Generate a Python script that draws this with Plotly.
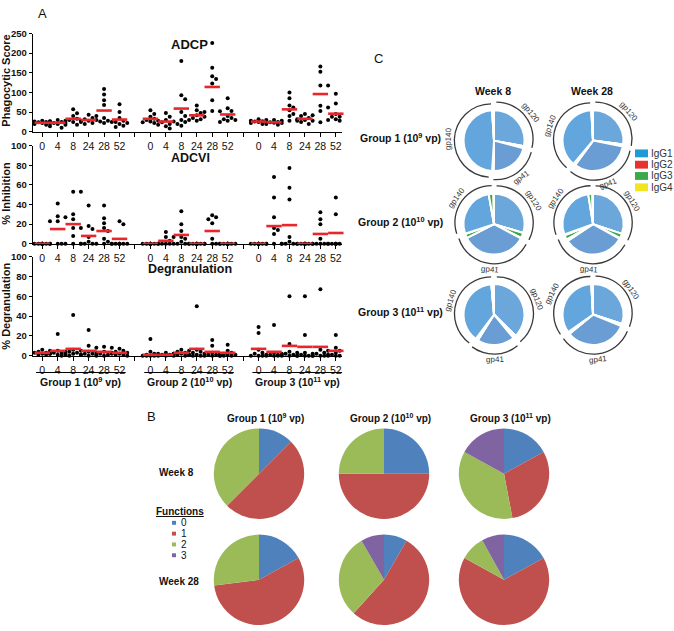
import plotly.graph_objects as go
import math

W, H = 674, 631
def fx(x): return x / W
def fy(y): return 1 - y / H

FONT = "Arial, 'Liberation Sans', sans-serif"

# ---------------- DATA ----------------
timepoints = ["0", "4", "8", "24", "28", "52"]
group_labels = ["Group 1 (10<sup>9</sup> vp)", "Group 2 (10<sup>10</sup> vp)", "Group 3 (10<sup>11</sup> vp)"]

# Panel A - ADCP (phagocytic score), per group: list per timepoint
adcp_g1 = [[28, 26, 24, 22, 21, 20, 18, 27, 25],
           [30, 28, 26, 22, 20, 18, 14, 10, 25],
           [57, 47, 40, 33, 30, 28, 25, 22, 18],
           [43, 40, 35, 32, 30, 28, 25, 22, 20],
           [109, 95, 80, 68, 35, 28, 26, 25, 22],
           [70, 50, 35, 28, 25, 22, 20, 15, 12]]
adcp_g2 = [[55, 45, 38, 33, 30, 28, 26, 24, 22],
           [48, 38, 30, 26, 24, 20, 18, 14, 8],
           [180, 93, 83, 50, 40, 30, 25, 20, 15],
           [67, 55, 48, 42, 38, 35, 32, 30, 28],
           [226, 163, 141, 134, 123, 80, 53, 52, 50],
           [85, 60, 53, 40, 35, 32, 30, 28, 25]]
adcp_g3 = [[32, 30, 28, 27, 26, 25, 24, 22, 20],
           [30, 28, 26, 25, 24, 23, 22, 20, 18],
           [100, 85, 67, 62, 55, 45, 40, 28, 28],
           [45, 42, 40, 35, 32, 30, 28, 25, 20],
           [166, 153, 118, 118, 66, 62, 53, 24],
           [97, 72, 45, 38, 38, 35, 32, 30, 28]]
adcp_mean_g1 = [23, 23, 33, 30, 54, 31]
adcp_mean_g2 = [33, 26, 59, 42, 114, 44]
adcp_mean_g3 = [26, 24, 57, 33, 96, 46]

# Panel A - ADCVI (% inhibition)
adcvi_g1 = [[0, 0, 0, 0, 0, 0, 0, 0, 0],
            [41, 28, 27, 23, 23, 0, 0, 0, 0],
            [53, 53, 30, 25, 16, 16, 8, 0, 0],
            [39, 18, 15, 7, 2, 0, 0, 0, 0],
            [39, 26, 21, 16, 13, 5, 2, 0, 0],
            [23, 20, 0, 0, 0, 0, 0, 0, 0]]
adcvi_g2 = [[0, 0, 0, 0, 0, 0, 0, 0, 0],
            [12, 7, 7, 3, 0, 0, 0, 0, 0],
            [33, 20, 13, 7, 5, 2, 0, 0, 0],
            [0, 0, 0, 0, 0, 0, 0, 0, 0],
            [29, 27, 25, 21, 5, 0, 0, 0, 0],
            [0, 0, 0, 0, 0, 0, 0, 0, 0]]
adcvi_g3 = [[0, 0, 0, 0, 0, 0, 0, 0, 0],
            [68, 47, 27, 16, 14, 10, 0, 0, 0],
            [77, 57, 45, 7, 2, 0, 0, 0, 0],
            [0, 0, 0, 0, 0, 0, 0, 0, 0],
            [32, 25, 20, 5, 0, 0, 0, 0, 0],
            [47, 30, 0, 0, 0, 0, 0, 0, 0]]
adcvi_mean_g1 = [0, 15, 20, 8, 13, 5]
adcvi_mean_g2 = [0, 3, 9, 0, 13, 0]
adcvi_mean_g3 = [0, 18, 19, 0, 10, 11]

# Panel A - Degranulation (%)
degr_g1 = [[6, 5, 4, 3, 3, 2, 2, 1, 1],
           [22, 5, 4, 3, 3, 2, 1, 1, 0],
           [41, 6, 5, 4, 3, 2, 2, 1, 0],
           [26, 10, 4, 3, 2, 2, 1, 0, 0],
           [9, 8, 8, 4, 3, 2, 1, 1, 0],
           [7, 5, 4, 3, 2, 2, 1, 1, 0]]
degr_g2 = [[17, 4, 2, 1, 1, 0, 0, 0, 0],
           [3, 2, 2, 1, 1, 1, 0, 0, 0],
           [6, 5, 4, 3, 2, 2, 1, 1, 0],
           [50, 6, 4, 3, 2, 1, 1, 0, 0],
           [16, 10, 3, 2, 1, 1, 0, 0, 0],
           [11, 5, 3, 2, 1, 1, 0, 0, 0]]
degr_g3 = [[29, 23, 6, 3, 2, 1, 0, 0, 0],
           [31, 3, 2, 1, 1, 0, 0, 0, 0],
           [60, 12, 4, 3, 2, 1, 1, 0, 0],
           [60, 21, 3, 2, 1, 0, 0, 0, 0],
           [67, 6, 5, 3, 2, 1, 0, 0, 0],
           [21, 8, 5, 3, 2, 1, 0, 0, 0]]
degr_mean_g1 = [3, 5, 7, 5, 4, 3]
degr_mean_g2 = [1, 1, 3, 7, 4, 3]
degr_mean_g3 = [7, 4, 10, 9, 9, 5]

# Panel C - IgG subclass distribution per antigen [IgG1, IgG2, IgG3, IgG4]
c_antigens = ["gp120", "gp41", "gp140"]
igg_labels = ["IgG1", "IgG2", "IgG3", "IgG4"]
c_g1_w8 = [[28.0, 0.0, 0.4, 0.6], [21.3, 0.0, 0.2, 0.5], [48.0, 0.0, 0.5, 0.5]]
c_g1_w28 = [[27.0, 0.0, 0.4, 0.7], [32.0, 0.0, 0.5, 0.5], [38.0, 0.0, 0.3, 0.6]]
c_g2_w8 = [[30.0, 0.0, 2.8, 0.3], [35.0, 0.0, 2.3, 0.2], [27.5, 0.0, 2.5, 0.3]]
c_g2_w28 = [[30.5, 0.0, 2.5, 0.3], [33.0, 1.0, 2.4, 0.5], [28.3, 0.0, 2.1, 0.4]]
c_g3_w8 = [[37.5, 0.0, 1.1, 0.5], [20.0, 0.0, 0.7, 0.6], [38.5, 0.0, 1.1, 0.3]]
c_g3_w28 = [[30.0, 0.0, 0.5, 0.7], [33.0, 0.0, 0.4, 0.7], [34.0, 0.0, 0.3, 0.6]]

# Panel B - number of functions (% of animals) [0, 1, 2, 3]
func_labels = ["0", "1", "2", "3"]
b_g1_w8 = [12.5, 50.0, 37.5, 0.0]
b_g2_w8 = [25.0, 50.0, 25.0, 0.0]
b_g3_w8 = [17.0, 30.0, 36.0, 17.0]
b_g1_w28 = [17.0, 56.0, 27.0, 0.0]
b_g2_w28 = [8.3, 53.4, 30.0, 8.3]
b_g3_w28 = [17.0, 66.0, 9.0, 8.0]

# ---------------- STYLE ----------------
XPX = 15.45  # px per slot on panel A x axis

def swarm(vals, ypx, step=0.25, diam=4.2):
    order = sorted(range(len(vals)), key=lambda k: -vals[k])
    placed, res = [], [0.0] * len(vals)
    for k in order:
        y = vals[k] * ypx
        best, bestd = 0, -1
        for c in [0, 1, -1, 2, -2]:
            x = c * step * XPX
            d = min([((x - a) ** 2 + (y - b) ** 2) ** 0.5 for a, b in placed], default=99)
            if d >= diam:
                best = c
                break
            if d > bestd:
                bestd, best = d, c
        res[k] = best * step
        placed.append((best * step * XPX, y))
    return res

fig = go.Figure()

assays = [
    ("", (adcp_g1, adcp_g2, adcp_g3), (adcp_mean_g1, adcp_mean_g2, adcp_mean_g3), 0.4),
    ("2", (adcvi_g1, adcvi_g2, adcvi_g3), (adcvi_mean_g1, adcvi_mean_g2, adcvi_mean_g3), 1.0),
    ("3", (degr_g1, degr_g2, degr_g3), (degr_mean_g1, degr_mean_g2, degr_mean_g3), 1.01),
]
for ax, groups, means, ypx in assays:
    xs, ys, mx, my = [], [], [], []
    for g in range(3):
        for i in range(6):
            vals = groups[g][i]
            offs = swarm(vals, ypx)
            slot = g * 7 + i
            xs += [slot + o for o in offs]
            ys += vals
            mx.append(slot)
            my.append(means[g][i])
    fig.add_trace(go.Scatter(x=xs, y=ys, mode="markers", xaxis="x" + ax, yaxis="y" + ax,
                             marker=dict(color="black", size=4), cliponaxis=False, showlegend=False))
    fig.add_trace(go.Scatter(x=mx, y=my, mode="markers", xaxis="x" + ax, yaxis="y" + ax,
                             marker=dict(symbol="line-ew", size=11, line=dict(color="#E8262B", width=2.6)),
                             cliponaxis=False, showlegend=False))

tickvals = list(range(20))
ticktext = []
for s in range(20):
    g, i = divmod(s, 7)
    ticktext.append(timepoints[i] if i < 6 else " ")

xdom = [fx(33), fx(342)]
ydoms = {"": (28, 128), "2": (142, 242), "3": (255, 356)}
yranges = {"": [0, 250], "2": [0, 100], "3": [0, 100]}
ydticks = {"": 50, "2": 20, "3": 20}
layout_axes = {}
for ax in ["", "2", "3"]:
    top, bot = ydoms[ax]
    layout_axes["xaxis" + ax] = dict(domain=xdom, range=[-0.6, 19.4], anchor="y" + ax,
                                     tickvals=tickvals, ticktext=ticktext, ticks="outside", ticklen=4,
                                     tickwidth=1.2, tickcolor="black", showline=True, linecolor="black",
                                     linewidth=1.4, showgrid=False, zeroline=False,
                                     tickfont=dict(family=FONT, size=10.5, color="#111"))
    layout_axes["yaxis" + ax] = dict(domain=[fy(bot), fy(top)], range=yranges[ax], anchor="x" + ax,
                                     dtick=ydticks[ax], tick0=0, ticks="outside", ticklen=3, tickwidth=1.2,
                                     tickcolor="black", showline=True, linecolor="black", linewidth=1.4,
                                     showgrid=False, zeroline=False,
                                     tickfont=dict(family=FONT, size=9.5, color="#111", weight="bold"))

annotations = []
shapes = []

def txt(x, y, t, size=11, bold=False, angle=0, color="#111", xanchor="center", xref="paper"):
    annotations.append(dict(x=x if xref != "paper" else fx(x), y=fy(y), xref=xref, yref="paper",
                            text=t, showarrow=False, textangle=angle, xanchor=xanchor, yanchor="middle",
                            borderpad=0,
                            font=dict(family=FONT, size=size, color=color, weight="bold" if bold else "normal")))

# Panel A texts
txt(42, 8, "A", size=13)
txt(189, 39, "ADCP", size=13, bold=True)
txt(190, 155, "ADCVI", size=12.5, bold=True)
txt(190, 268, "Degranulation", size=12.5, bold=True)
txt(6, 76, "Phagocytic Score", size=11, bold=True, angle=-90)
txt(6, 191, "% Inhibition", size=11, bold=True, angle=-90)
txt(6, 306, "% Degranulation", size=11, bold=True, angle=-90)
for g in range(3):
    shapes.append(dict(type="line", xref="x3", yref="paper", x0=g * 7 - 0.4, x1=g * 7 + 5.4,
                       y0=fy(373), y1=fy(373), line=dict(color="black", width=1.2)))
    txt(g * 7 + 2.5, 382, group_labels[g], size=10.5, bold=True, xref="x3")

# Panel C
txt(378, 53, "C", size=13)
txt(493, 86, "Week 8", size=10.5, bold=True)
txt(592, 86, "Week 28", size=10.5, bold=True)
c_rows = [(137, c_g1_w8, c_g1_w28), (222, c_g2_w8, c_g2_w28), (314, c_g3_w8, c_g3_w28)]
c_xs = [494, 593]
igg1_shades = {"gp120": "#6CA7DB", "gp41": "#6A9DD3", "gp140": "#62A6DD"}
igg_other = {"IgG2": "#E0403A", "IgG3": "#3EA845", "IgG4": "#EDE43A"}
for r_i, (cy, w8, w28) in enumerate(c_rows):
    txt(401, cy - 3, group_labels[r_i], size=10.5, bold=True)
    for cx, data in zip(c_xs, [w8, w28]):
        labels, vals, cols = [], [], []
        for a, ant in enumerate(c_antigens):
            for j, ig in enumerate(igg_labels):
                labels.append(ant + " " + ig)
                vals.append(data[a][j])
                cols.append(igg1_shades[ant] if ig == "IgG1" else igg_other[ig])
        R = 31
        fig.add_trace(go.Pie(labels=labels, values=vals, sort=False, direction="clockwise", rotation=0,
                             marker=dict(colors=cols, line=dict(color="white", width=2.0)),
                             textinfo="none", showlegend=False,
                             domain=dict(x=[fx(cx - R), fx(cx + R)], y=[fy(cy + R), fy(cy - R)])))
        sums = [sum(d) for d in data]
        pull = 0.08
        RR = 38 * (1 + pull)
        fig.add_trace(go.Pie(labels=c_antigens, values=sums, sort=False, direction="clockwise", rotation=0,
                             hole=0.965, pull=[pull] * 3,
                             marker=dict(colors=["#3a3a3a"] * 3, line=dict(width=0)),
                             textinfo="none", showlegend=False,
                             domain=dict(x=[fx(cx - RR), fx(cx + RR)], y=[fy(cy + RR), fy(cy - RR)])))
        tot = sum(sums)
        cum = 0
        for ant, s in zip(c_antigens, sums):
            th = (cum + s / 2) / tot * 360
            cum += s
            rad = math.radians(th)
            lx = cx + 46 * math.sin(rad)
            ly = cy - 46 * math.cos(rad)
            ang = th if (th <= 90 or th >= 270) else th - 180
            if ang > 180:
                ang -= 360
            txt(lx, ly, ant, size=8, angle=ang, color="#333")

leg_cols = ["#1E9AD6", "#E8322E", "#3AAA48", "#F0E520"]
for k, (lab, col) in enumerate(zip(igg_labels, leg_cols)):
    yc = 150 + k * 11.5
    shapes.append(dict(type="rect", xref="paper", yref="paper", x0=fx(635), x1=fx(648),
                       y0=fy(yc + 4), y1=fy(yc - 4), fillcolor=col, line=dict(width=0)))
    txt(650, yc, lab, size=10, color="#333", xanchor="left")

# Panel B
txt(151, 418, "B", size=13)
b_colors = ["#4F81BD", "#C0504D", "#9BBB59", "#8064A2"]
b_xs = [259, 384, 504]
b_rows = [(476, [b_g1_w8, b_g2_w8, b_g3_w8]), (584, [b_g1_w28, b_g2_w28, b_g3_w28])]
for g in range(3):
    txt(b_xs[g] + 6, 419, group_labels[g], size=10, bold=True)
for cy, row in b_rows:
    for cx, vals in zip(b_xs, row):
        R = 46
        fig.add_trace(go.Pie(labels=func_labels, values=vals, sort=False, direction="clockwise", rotation=0,
                             marker=dict(colors=b_colors, line=dict(width=0)), textinfo="none",
                             showlegend=False,
                             domain=dict(x=[fx(cx - R), fx(cx + R)], y=[fy(cy + R), fy(cy - R)])))
txt(176, 475, "Week 8", size=10, bold=True)
txt(179, 586, "Week 28", size=10, bold=True)
txt(180, 514, "<u>Functions</u>", size=10, bold=True)
for k, (lab, col) in enumerate(zip(func_labels, b_colors)):
    yc = 526 + k * 11
    shapes.append(dict(type="rect", xref="paper", yref="paper", x0=fx(172), x1=fx(176),
                       y0=fy(yc + 2), y1=fy(yc - 2), fillcolor=col, line=dict(width=0)))
    txt(180, yc, lab, size=10, color="#111", xanchor="left")

fig.update_layout(width=W, height=H, margin=dict(l=0, r=0, t=0, b=0),
                  paper_bgcolor="white", plot_bgcolor="white", showlegend=False,
                  font=dict(family=FONT), annotations=annotations, shapes=shapes, **layout_axes)

fig.write_html("out.html", config={"displayModeBar": False},
               post_script="document.body.style.margin='0';")
